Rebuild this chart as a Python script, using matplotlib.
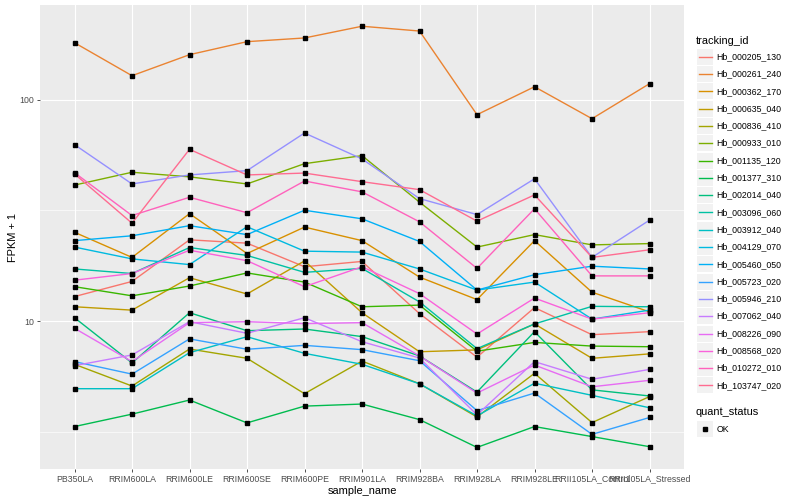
#!/usr/bin/env python3
"""
FPKM + 1 per sample for 20 tracking ids, ggplot-like look.
Writes out.png (800x500).
"""

import matplotlib
matplotlib.use('Agg')
import matplotlib.pyplot as plt
from matplotlib.patches import Rectangle

plt.rcParams['font.family'] = ['Liberation Sans', 'DejaVu Sans']

samples = ["PB350LA", "RRIM600LA", "RRIM600LE", "RRIM600SE", "RRIM600PE",
           "RRIM901LA", "RRIM928BA", "RRIM928LA", "RRIM928LE",
           "RRII105LA_Control", "RRII105LA_Stressed"]

tracking_ids = ["Hb_000205_130", "Hb_000261_240", "Hb_000362_170", "Hb_000635_040",
                "Hb_000836_410", "Hb_000933_010", "Hb_001135_120", "Hb_001377_310",
                "Hb_002014_040", "Hb_003096_060", "Hb_003912_040", "Hb_004129_070",
                "Hb_005460_050", "Hb_005723_020", "Hb_005946_210", "Hb_007062_040",
                "Hb_008226_090", "Hb_008568_020", "Hb_010272_010", "Hb_103747_020"]

# ggplot default hue palette for 20 levels
colors = ["#F8766D", "#EA8331", "#D89000", "#C09B00", "#A3A500", "#7CAE00",
          "#39B600", "#00BB4E", "#00BF7D", "#00C1A3", "#00BFC4", "#00BAE0",
          "#00B0F6", "#35A2FF", "#9590FF", "#C77CFF", "#E76BF3", "#FA62DB",
          "#FF62BC", "#FF6C91"]

# FPKM + 1, one list per tracking id, in sample order
hb_000205_130 = [12.9, 15.1, 23.3, 22.5, 17.6, 18.6, 10.8, 6.86, 11.5, 8.67, 8.95]
hb_000261_240 = [181.6, 128.8, 160.3, 183.6, 190.8, 215.6, 205.1, 85.8, 114.8, 82.3, 118.5]
hb_000362_170 = [25.2, 19.4, 30.6, 20.2, 26.6, 23.1, 15.8, 12.5, 23.1, 13.5, 11.0]
hb_000635_040 = [11.6, 11.2, 15.7, 13.25, 18.7, 10.9, 7.26, 7.4, 9.7, 6.78, 7.1]
hb_000836_410 = [6.37, 5.08, 7.47, 6.78, 4.69, 6.59, 5.2, 3.68, 5.8, 3.47, 4.55]
hb_000933_010 = [41.2, 47.1, 44.9, 41.7, 51.5, 56.0, 34.5, 21.6, 24.6, 22.1, 22.4]
hb_001135_120 = [14.3, 13.0, 14.4, 16.5, 15.0, 11.6, 11.8, 7.3, 8.0, 7.7, 7.65]
hb_001377_310 = [3.33, 3.79, 4.39, 3.46, 4.12, 4.21, 3.58, 2.68, 3.33, 3.0, 2.70]
hb_002014_040 = [10.35, 6.46, 10.9, 9.04, 9.2, 8.5, 6.95, 4.77, 8.95, 4.88, 4.58]
hb_003096_060 = [17.2, 16.4, 21.5, 19.8, 16.6, 17.3, 12.2, 7.5, 9.7, 11.65, 11.6]
hb_003912_040 = [4.94, 4.94, 7.19, 8.49, 7.14, 6.37, 5.2, 3.72, 5.23, 4.61, 4.05]
hb_004129_070 = [21.6, 19.1, 18.0, 26.7, 20.7, 20.5, 17.2, 13.8, 15.0, 10.2, 11.2]
hb_005460_050 = [23.1, 24.3, 27.0, 24.6, 31.7, 29.0, 22.9, 13.8, 16.2, 17.7, 17.2]
hb_005723_020 = [6.55, 5.75, 8.3, 7.45, 7.76, 7.42, 6.61, 3.93, 4.72, 3.07, 3.66]
hb_005946_210 = [62.8, 41.7, 45.8, 47.9, 70.9, 54.1, 35.8, 30.3, 44.0, 19.4, 28.6]
hb_007062_040 = [6.28, 7.02, 9.93, 8.8, 10.35, 8.06, 6.8, 3.76, 6.55, 5.45, 6.04]
hb_008226_090 = [9.27, 6.55, 9.83, 9.93, 9.73, 9.83, 6.95, 4.72, 6.32, 5.04, 5.39]
hb_008568_020 = [15.3, 16.4, 20.9, 18.75, 14.3, 17.6, 13.3, 8.73, 12.7, 10.2, 10.9]
hb_010272_010 = [46.9, 30.0, 36.3, 30.9, 43.0, 38.4, 28.1, 17.3, 32.2, 16.0, 16.0]
hb_103747_020 = [46.3, 27.7, 59.8, 45.8, 46.7, 42.7, 39.3, 28.3, 37.2, 19.4, 21.0]

series = [hb_000205_130, hb_000261_240, hb_000362_170, hb_000635_040, hb_000836_410,
          hb_000933_010, hb_001135_120, hb_001377_310, hb_002014_040, hb_003096_060,
          hb_003912_040, hb_004129_070, hb_005460_050, hb_005723_020, hb_005946_210,
          hb_007062_040, hb_008226_090, hb_008568_020, hb_010272_010, hb_103747_020]

PANEL = "#EBEBEB"
KEYBG = "#F2F2F2"
AXTXT = "#4D4D4D"
TICK = "#333333"


def main():
    fig = plt.figure(figsize=(8, 5), dpi=100, facecolor="white")
    ax = fig.add_axes([40 / 800, 1 - 469 / 500, 644 / 800, 464 / 500])
    ax.set_facecolor(PANEL)

    x = list(range(1, len(samples) + 1))
    for vals, col in zip(series, colors):
        ax.plot(x, vals, color=col, lw=1.0, zorder=3)
    for vals in series:
        ax.plot(x, vals, ls='none', marker='s', ms=2.3, color='black', zorder=4)

    ax.set_yscale('log')
    ax.set_ylim(2.14, 269)
    ax.set_xlim(0.4, 11.6)

    # grid, ggplot style
    for yy in (10, 100):
        ax.axhline(yy, color='white', lw=0.85, zorder=1)
    for yy in (10 ** 0.5, 10 ** 1.5):
        ax.axhline(yy, color='white', lw=0.45, zorder=1)
    for xx in x:
        ax.axvline(xx, color='white', lw=0.85, zorder=1)

    ax.set_yticks([10, 100])
    ax.set_yticklabels(["10", "100"])
    ax.minorticks_off()
    ax.set_xticks(x)
    ax.set_xticklabels(samples)
    ax.tick_params(axis='both', colors=TICK, labelcolor=AXTXT, labelsize=6.3,
                   length=2.5, width=0.6, pad=1.5)
    for s in ax.spines.values():
        s.set_visible(False)

    ax.set_xlabel("sample_name", fontsize=7.9, color='black', labelpad=2)
    ax.set_ylabel("FPKM + 1", fontsize=7.9, color='black', labelpad=1)

    # legend drawn in pixel coordinates
    lax = fig.add_axes([0, 0, 1, 1], zorder=5)
    lax.set_xlim(0, 800)
    lax.set_ylim(500, 0)
    lax.axis('off')

    lax.text(696, 40.5, "tracking_id", fontsize=7.9, va='center', ha='left')
    for i, (name, col) in enumerate(zip(tracking_ids, colors)):
        yc = 56.7 + i * 17.3
        lax.add_patch(Rectangle((697, yc - 8), 16, 16, facecolor=KEYBG, edgecolor='none'))
        lax.plot([698.5, 711.5], [yc, yc], color=col, lw=1.0)
        lax.text(716.5, yc, name, fontsize=6.3, va='center', ha='left')

    lax.text(696, 412, "quant_status", fontsize=7.9, va='center', ha='left')
    lax.add_patch(Rectangle((697, 421), 16, 16, facecolor=KEYBG, edgecolor='none'))
    lax.plot([705], [429], marker='s', ms=2.3, color='black')
    lax.text(716.5, 429, "OK", fontsize=6.3, va='center', ha='left')

    fig.savefig("out.png", dpi=100, facecolor="white")
    plt.close(fig)


if __name__ == "__main__":
    main()
